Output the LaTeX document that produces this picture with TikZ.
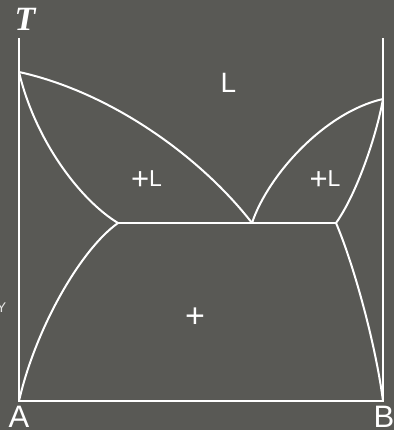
\documentclass[tikz,border=0pt]{standalone}
\usepackage{fontspec}
\setmainfont{Liberation Sans}
\newfontfamily\serifT{Liberation Serif}
\definecolor{bgc}{RGB}{89,89,85}
\newcommand{\bigplus}{{\fontsize{31}{31}\selectfont\raisebox{-2.8pt}{+}}}
\begin{document}
\begin{tikzpicture}[x=1pt,y=-1pt,
  curve/.style={draw=white,line width=2pt},
  axisline/.style={draw=white,line width=2.1pt},
  lbl/.style={text=white,inner sep=0pt,font=\fontsize{23}{23}\selectfont},
  endlbl/.style={text=white,inner sep=0pt,anchor=base,font=\fontsize{31}{31}\selectfont}]
\fill[bgc] (0,0) rectangle (394,430);
\useasboundingbox (0,0) rectangle (394,430);
% key points
\coordinate (axtopL) at (19,38);
\coordinate (axtopR) at (383,38);
\coordinate (O) at (19,401);
\coordinate (E) at (383,401);
\coordinate (mA) at (19,72);
\coordinate (mB) at (383,99);
\coordinate (eu) at (252,223);
\coordinate (aL) at (118,223);
\coordinate (aR) at (336,223);
% axes
\draw[axisline] (axtopL) -- (O) -- (E) -- (axtopR);
% liquidus / solidus
\draw[curve] (mA) .. controls (110,92) and (200,156) .. (eu);
\draw[curve] (mA) .. controls (35,140) and (80,200) .. (aL);
\draw[curve] (eu) .. controls (268,175) and (325,112) .. (mB);
\draw[curve] (mB) .. controls (376,138) and (356,195) .. (aR);
\draw[curve] (aL) -- (aR);
% solvus
\draw[curve] (aL) .. controls (80,250) and (35,330) .. (O);
\draw[curve] (aR) .. controls (352,260) and (375,340) .. (E);
% labels
\node[text=white,inner sep=0pt,font=\serifT\bfseries\itshape\fontsize{34}{34}\selectfont] (T) at (25,19.5) {T};
\node[lbl,font=\fontsize{28}{28}\selectfont] (Lq) at (228.5,83) {L};
\node[lbl] (aLq) at (146.5,180) {\bigplus L};
\node[lbl] (bLq) at (325,180) {\bigplus L};
\node[lbl,font=\fontsize{34}{34}\selectfont] (ab) at (195,317.5) {+};
\node[endlbl] (A) at (19,427) {A};
\node[endlbl] (B) at (384,427) {B};
\node[text=white!85!bgc,inner sep=0pt,anchor=base,font=\fontsize{14}{14}\selectfont] (Y) at (1.5,312) {Y};
\end{tikzpicture}
\end{document}
